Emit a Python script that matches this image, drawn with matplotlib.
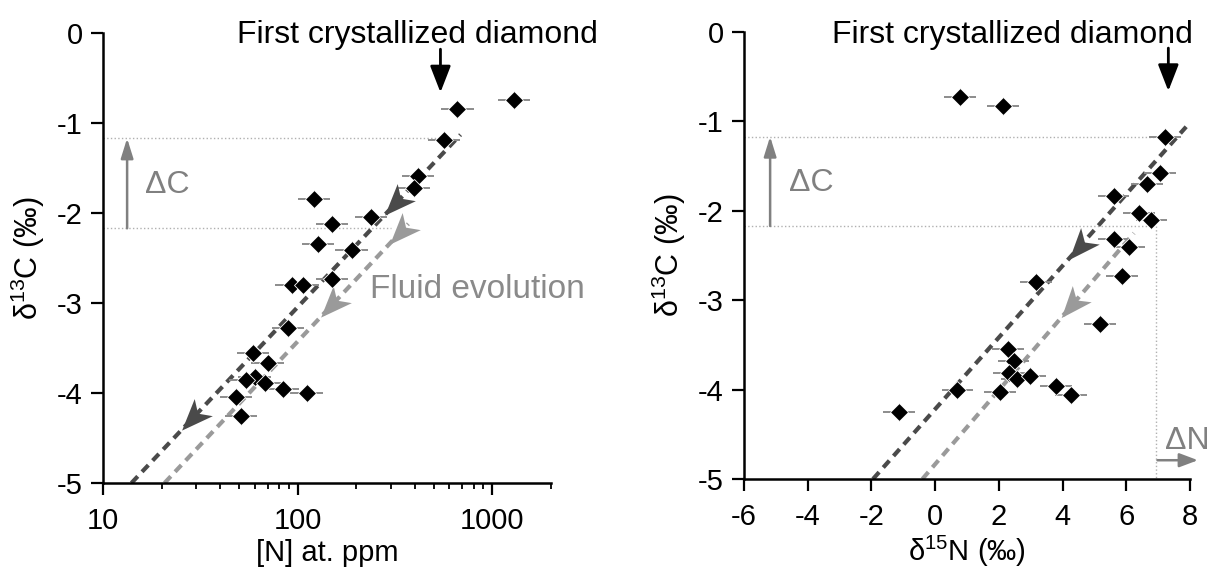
import matplotlib
matplotlib.use("Agg")
import matplotlib.pyplot as plt
from matplotlib.path import Path
import numpy as np

plt.rcParams['font.family'] = ['Liberation Sans', 'DejaVu Sans']
plt.rcParams['mathtext.fontset'] = 'custom'
plt.rcParams['mathtext.rm'] = 'Liberation Sans'
plt.rcParams['mathtext.it'] = 'Liberation Sans'
plt.rcParams['mathtext.bf'] = 'Liberation Sans'
plt.rcParams['axes.unicode_minus'] = False

# left panel: nitrogen content vs d13C
n_ppm = [1297, 661, 564, 416, 397, 121, 239, 150, 127, 189, 150, 93, 106,
         89, 59, 70, 60, 54, 68, 84, 111, 48, 51]
d13c_left = [-0.74, -0.85, -1.19, -1.59, -1.72, -1.84, -2.04, -2.12, -2.34, -2.41,
             -2.73, -2.80, -2.80, -3.28, -3.56, -3.67, -3.82, -3.86, -3.89, -3.96,
             -4.00, -4.04, -4.26]

# right panel: d15N vs d13C
d15n = [0.79, 2.13, 7.21, 7.06, 6.64, 5.60, 6.39, 6.79, 5.60, 6.09, 5.87, 3.16,
        5.17, 2.29, 2.46, 2.31, 2.58, 2.98, 3.80, 4.26, 0.70, 2.03, -1.13]
d13c_right = [-0.73, -0.83, -1.17, -1.58, -1.70, -1.83, -2.03, -2.10, -2.32, -2.40,
              -2.73, -2.80, -3.27, -3.55, -3.68, -3.81, -3.88, -3.85, -3.96, -4.06,
              -4.00, -4.03, -4.25]

# fluid evolution trends (end points) and arrow head heights
left_dark = [(14, -5.0), (686, -1.13)]
left_grey = [(20.7, -5.0), (370, -2.12)]
right_dark = [(-1.95, -5.0), (7.88, -1.06)]
right_grey = [(-0.40, -5.0), (6.24, -2.25)]
left_dark_heads = [-1.89, -4.28]
left_grey_heads = [-2.21, -3.02]
right_dark_heads = [-2.40]
right_grey_heads = [-3.05]

dc_top, dc_bottom = -1.17, -2.17
dn_x = 6.93

W, H = 1211, 573
fig = plt.figure(figsize=(W / 100, H / 100), dpi=100)
ax1 = fig.add_axes([103 / W, 1 - 483 / H, 448 / W, 450 / H])
ax2 = fig.add_axes([744 / W, 1 - 479 / H, 446 / W, 447 / H])

dark = '#4a4a4a'
grey = '#9a9a9a'


def style(ax):
    for s in ['top', 'right']:
        ax.spines[s].set_visible(False)
    for s in ['left', 'bottom']:
        ax.spines[s].set_linewidth(1.8)
    ax.tick_params(which='major', direction='out', length=8.5, width=1.6,
                   labelsize=21, pad=6)
    ax.tick_params(axis='x', which='major', pad=9)
    ax.tick_params(which='minor', direction='out', length=4.5, width=1.3)
    ax.set_ylim(-5, 0)
    ax.set_yticks([0, -1, -2, -3, -4, -5])
    ax.set_ylabel(r'δ$^{13}$C (‰)', fontsize=22, labelpad=7)


def along(p0, p1, y, logx):
    # point on the trend line at a given y
    t = (y - p0[1]) / (p1[1] - p0[1])
    if logx:
        return 10 ** (np.log10(p0[0]) + t * (np.log10(p1[0]) - np.log10(p0[0])))
    return p0[0] + t * (p1[0] - p0[0])


def stealth(angle):
    # arrow head pointing along angle (radians, display space)
    v = np.array([[1.0, 0.0], [-0.9, 0.75], [-0.4, 0.0], [-0.9, -0.75], [1.0, 0.0]])
    c, s = np.cos(angle), np.sin(angle)
    v = v @ np.array([[c, s], [-s, c]])
    return Path(v, [Path.MOVETO, Path.LINETO, Path.LINETO, Path.LINETO, Path.CLOSEPOLY])


def trend(ax, p, color, heads, logx):
    ax.plot([p[0][0], p[1][0]], [p[0][1], p[1][1]], color=color, lw=3,
            dashes=(2.2, 1.5), zorder=2)
    for y in heads:
        c = (along(p[0], p[1], y, logx), y)
        u = (along(p[0], p[1], y + 0.3, logx), y + 0.3)
        a = ax.transData.transform([c, u])
        ang = np.arctan2(a[0][1] - a[1][1], a[0][0] - a[1][0])
        ax.plot([c[0]], [c[1]], marker=stealth(ang), ms=28, color=color,
                mec='none', ls='none', zorder=3)


# ---- left panel
ax1.set_xscale('log')
ax1.set_xlim(10, 2000)
style(ax1)
ax1.set_xticks([10, 100, 1000])
ax1.set_xticklabels(['10', '100', '1000'])
ax1.set_xlabel('[N] at. ppm', fontsize=21, labelpad=3)

f = 1.21
xl = np.array(n_ppm)
ax1.errorbar(xl, d13c_left, xerr=[xl - xl / f, xl * f - xl], fmt='none',
             ecolor='#8c8c8c', elinewidth=1.4, capsize=0, zorder=3)
ax1.plot(xl, d13c_left, 'D', color='black', ms=9, mec='white', mew=0.6, zorder=4)

ax1.plot([10, 550], [dc_top, dc_top], color='#b0b0b0', lw=1, ls=':', zorder=1)
ax1.plot([10, 300], [dc_bottom, dc_bottom], color='#b0b0b0', lw=1, ls=':', zorder=1)
trend(ax1, left_dark, dark, left_dark_heads, True)
trend(ax1, left_grey, grey, left_grey_heads, True)

ax1.annotate('', xy=(13.3, dc_top), xytext=(13.3, dc_bottom),
             arrowprops=dict(arrowstyle='-|>,head_length=0.8,head_width=0.25',
                             color='#808080', lw=1.8, mutation_scale=15,
                             shrinkA=0, shrinkB=0))
ax1.text(16.4, -1.69, 'ΔC', fontsize=23, color='#808080', va='center')
ax1.text(235, -2.95, 'Fluid evolution', fontsize=24, color='#8a8a8a',
         va='baseline')
ax1.annotate('', xy=(541, -0.66), xytext=(541, -0.18),
             arrowprops=dict(arrowstyle='-|>,head_length=0.9,head_width=0.35',
                             color='black', lw=2, mutation_scale=18,
                             shrinkA=0, shrinkB=0))
fig.text(237 / W, 1 - 43 / H, 'First crystallized diamond', fontsize=23,
         va='baseline', ha='left')

# ---- right panel
ax2.set_xlim(-6, 8)
style(ax2)
ax2.set_xticks(np.arange(-6, 9, 2))
ax2.set_xlabel(r'δ$^{15}$N (‰)', fontsize=21, labelpad=2)

ax2.errorbar(d15n, d13c_right, xerr=0.5, fmt='none', ecolor='#8c8c8c',
             elinewidth=1.4, capsize=0, zorder=3)
ax2.plot(d15n, d13c_right, 'D', color='black', ms=9, mec='white', mew=0.6, zorder=4)

ax2.plot([-6, 7.1], [dc_top, dc_top], color='#b0b0b0', lw=1, ls=':', zorder=1)
ax2.plot([-6, dn_x], [dc_bottom, dc_bottom], color='#b0b0b0', lw=1, ls=':', zorder=1)
ax2.plot([dn_x, dn_x], [dc_bottom, -5], color='#b0b0b0', lw=1, ls=':', zorder=1)
trend(ax2, right_dark, dark, right_dark_heads, False)
trend(ax2, right_grey, grey, right_grey_heads, False)

ax2.annotate('', xy=(-5.18, dc_top), xytext=(-5.18, dc_bottom),
             arrowprops=dict(arrowstyle='-|>,head_length=0.8,head_width=0.25',
                             color='#808080', lw=1.8, mutation_scale=15,
                             shrinkA=0, shrinkB=0))
ax2.text(-4.6, -1.69, 'ΔC', fontsize=23, color='#808080', va='center')
ax2.annotate('', xy=(8.25, -4.79), xytext=(dn_x + 0.05, -4.79),
             arrowprops=dict(arrowstyle='-|>,head_length=0.8,head_width=0.3',
                             color='#808080', lw=1.8, mutation_scale=14,
                             shrinkA=0, shrinkB=0), annotation_clip=False)
ax2.text(7.2, -4.57, 'ΔN', fontsize=23, color='#808080', va='center',
         clip_on=False)
ax2.annotate('', xy=(7.32, -0.66), xytext=(7.32, -0.18),
             arrowprops=dict(arrowstyle='-|>,head_length=0.9,head_width=0.35',
                             color='black', lw=2, mutation_scale=18,
                             shrinkA=0, shrinkB=0))
fig.text(832 / W, 1 - 43 / H, 'First crystallized diamond', fontsize=23,
         va='baseline', ha='left')

fig.savefig('out.png', dpi=100, facecolor='white')
